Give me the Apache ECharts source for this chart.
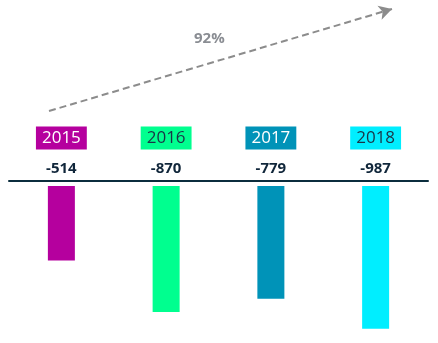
<!DOCTYPE html>
<html>
<head>
<meta charset="utf-8">
<script src="https://cdn.jsdelivr.net/npm/echarts@6/dist/echarts.min.js"></script>
<style>
  html, body { margin: 0; padding: 0; background: #fff; }
  #chart { width: 438px; height: 343px; }
</style>
</head>
<body>
<div id="chart"></div>
<script>
// Yearly results (negative values hang below the axis line)
const years = ['2015', '2016', '2017', '2018'];
const values = [-514, -870, -779, -987];
const barColors = ['#b5009e', '#00ff8f', '#0093b8', '#00eeff'];
const yearTextColors = ['#ffffff', '#1b3446', '#ffffff', '#1b3446'];

// Change from first to last year, shown above the trend arrow
const growth = Math.round((values[values.length - 1] - values[0]) / values[0] * 100);

const font = '"Open Sans", sans-serif';

const rich = {};
years.forEach((y, i) => {
  rich['y' + i] = {
    backgroundColor: barColors[i],
    color: yearTextColors[i],
    fontFamily: font,
    fontSize: 17,
    lineHeight: 18,
    padding: [3, 6, 3, 6]
  };
});

const chart = echarts.init(document.getElementById('chart'));
chart.setOption({
  animation: false,
  grid: { left: 9, right: 10, top: 186, height: 157 },
  xAxis: [
    {
      type: 'category',
      data: years,
      position: 'top',
      offset: 5,
      axisLine: { onZero: false, lineStyle: { color: '#0b2d3d', width: 2 } },
      axisTick: { show: false },
      axisLabel: {
        formatter: (v, i) => String(values[i]),
        fontFamily: font,
        fontWeight: 'bold',
        fontSize: 15,
        lineHeight: 14,
        color: '#10263a',
        margin: 5
      }
    },
    {
      type: 'category',
      data: years,
      position: 'top',
      offset: 5,
      axisLine: { show: false, onZero: false },
      axisTick: { show: false },
      axisLabel: {
        formatter: (v, i) => '{y' + i + '|' + v + '}',
        rich: rich,
        margin: 34
      }
    }
  ],
  yAxis: { type: 'value', max: 0, min: -1085, show: false },
  series: [{
    type: 'bar',
    xAxisIndex: 0,
    barWidth: 27,
    data: values.map((v, i) => ({ value: v, itemStyle: { color: barColors[i] } })),
    markLine: {
      silent: true,
      symbol: ['none', 'arrow'],
      symbolSize: [11, 13],
      label: { show: false },
      lineStyle: { color: '#8c8c8c', width: 2, type: [7, 4] },
      data: [[{ x: 49, y: 111 }, { x: 392, y: 9 }]]
    }
  }],
  graphic: [{
    type: 'text',
    left: 194,
    top: 31,
    style: {
      text: growth + '%',
      fontFamily: font,
      fontWeight: 'bold',
      fontSize: 15,
      fill: '#8a8d93'
    }
  }]
});
</script>
</body>
</html>
